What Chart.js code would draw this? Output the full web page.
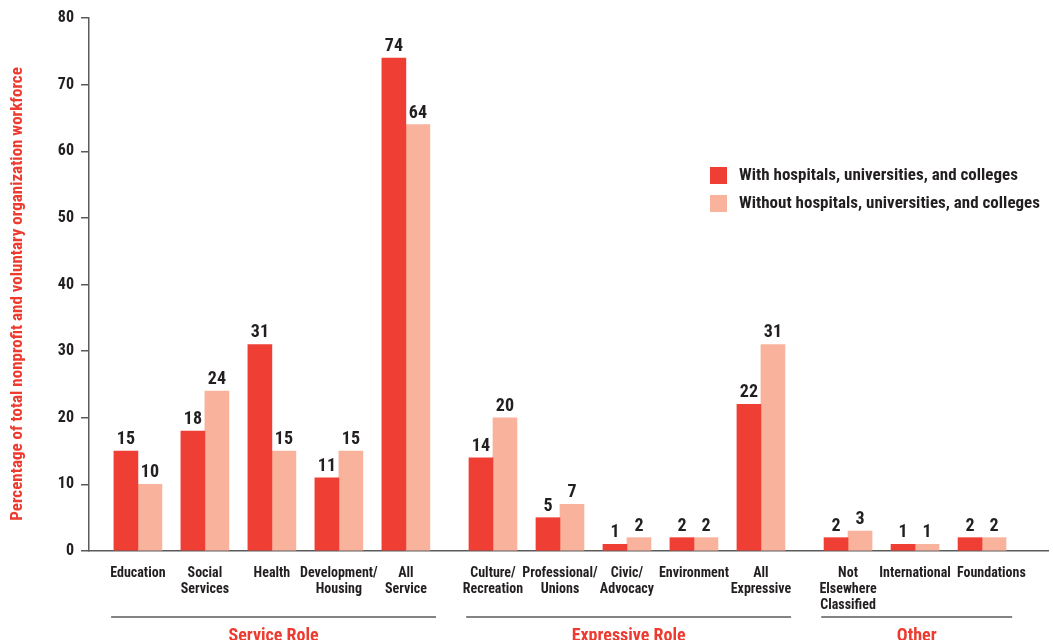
<!DOCTYPE html>
<html>
<head>
<meta charset="utf-8">
<script src="https://cdn.jsdelivr.net/npm/chart.js@4.4.1/dist/chart.umd.min.js"></script>
<style>
  html, body { margin: 0; padding: 0; background: #ffffff; }
  #wrap { position: relative; width: 1053px; height: 640px; }
</style>
</head>
<body>
<div id="wrap"><canvas id="c" width="1053" height="640"></canvas></div>
<script>
// ---- data ----
const categories = [
  ["Education"], ["Social", "Services"], ["Health"], ["Development/", "Housing"], ["All", "Service"],
  ["Culture/", "Recreation"], ["Professional/", "Unions"], ["Civic/", "Advocacy"], ["Environment"], ["All", "Expressive"],
  ["Not", "Elsewhere", "Classified"], ["International"], ["Foundations"]
];
const groupNames = ["Service Role", "Expressive Role", "Other"];
const groupSizes = [5, 5, 3];
const seriesNames = [
  "With hospitals, universities, and colleges",
  "Without hospitals, universities, and colleges"
];
const withHospitals    = [15, 18, 31, 11, 74, 14, 5, 1, 2, 22, 2, 1, 2];
const withoutHospitals = [10, 24, 15, 15, 64, 20, 7, 2, 2, 31, 3, 1, 2];
const yTicks = [0, 10, 20, 30, 40, 50, 60, 70, 80];
const yTitle = "Percentage of total nonprofit and voluntary organization workforce";

// ---- styling ----
const FONT = '"Roboto Condensed", "Open Sans Condensed", "DejaVu Sans Condensed", sans-serif';
const RED = "#ef3e33";
const PINK = "#f9b29b";
const ACCENT = "#ee3b30";
const INK = "#231f20";
const AXIS = "#5a5a5a";
const GROUP_GAP = 0.3;            // extra space between role groups, in category units
const LABEL_NUDGE = { 12: 0.14 }; // keeps the last two long labels from touching

// category slot positions along the x axis (groups separated by a small gap)
const positions = [];
{
  let p = 0;
  groupSizes.forEach(n => {
    for (let i = 0; i < n; i++) { positions.push(p); p += 1; }
    p += GROUP_GAP;
  });
}
// index ranges for each group
const groupRanges = [];
{
  let s = 0;
  groupSizes.forEach(n => { groupRanges.push([s, s + n - 1]); s += n; });
}

const toPoints = arr => arr.map((v, i) => ({ x: positions[i], y: v }));

const decorations = {
  id: "decorations",
  afterDatasetsDraw(chart) {
    const ctx = chart.ctx;
    ctx.save();
    ctx.fillStyle = INK;
    ctx.font = "bold 18px " + FONT;
    ctx.textAlign = "center";
    ctx.textBaseline = "alphabetic";
    chart.data.datasets.forEach((ds, di) => {
      const meta = chart.getDatasetMeta(di);
      meta.data.forEach((el, i) => {
        ctx.fillText(String(ds.data[i].y), el.x, el.y - 7);
      });
    });
    ctx.restore();
  },
  afterDraw(chart) {
    const ctx = chart.ctx;
    const xs = chart.scales.x;
    ctx.save();

    // vertical axis title
    ctx.save();
    ctx.translate(18, 294);
    ctx.rotate(-Math.PI / 2);
    ctx.fillStyle = ACCENT;
    ctx.font = "bold 17px " + FONT;
    ctx.textAlign = "center";
    ctx.textBaseline = "middle";
    ctx.fillText(yTitle, 0, 0);
    ctx.restore();

    // legend
    const colors = [RED, PINK];
    ctx.font = "bold 17px " + FONT;
    ctx.textAlign = "left";
    ctx.textBaseline = "middle";
    seriesNames.forEach((name, i) => {
      const y = 167 + i * 28;
      ctx.fillStyle = colors[i];
      ctx.fillRect(710, y, 17, 17);
      ctx.fillStyle = INK;
      ctx.fillText(name, 739, y + 9);
    });

    // group underlines and names
    groupRanges.forEach(([a, b], g) => {
      const x0 = xs.getPixelForValue(positions[a] - 0.4);
      const x1 = xs.getPixelForValue(positions[b] + 0.45);
      ctx.strokeStyle = AXIS;
      ctx.lineWidth = 1.5;
      ctx.beginPath();
      ctx.moveTo(x0, 617);
      ctx.lineTo(x1, 617);
      ctx.stroke();
      ctx.fillStyle = ACCENT;
      ctx.font = "bold 18px " + FONT;
      ctx.textAlign = "center";
      ctx.textBaseline = "alphabetic";
      ctx.fillText(groupNames[g], (x0 + x1) / 2, 641);
    });
    ctx.restore();
  }
};

new Chart(document.getElementById("c"), {
  type: "bar",
  data: {
    datasets: [
      { label: seriesNames[0], data: toPoints(withHospitals), backgroundColor: RED, barThickness: 24 },
      { label: seriesNames[1], data: toPoints(withoutHospitals), backgroundColor: PINK, barThickness: 24 }
    ]
  },
  options: {
    responsive: false,
    animation: false,
    layout: { padding: { top: 18, right: 5, left: 0, bottom: 0 } },
    plugins: { legend: { display: false }, tooltip: { enabled: false } },
    scales: {
      x: {
        type: "linear",
        offset: false,
        min: -0.73,
        max: 13.585,
        afterBuildTicks: s => {
          s.ticks = positions.map((v, i) => ({ value: v + (LABEL_NUDGE[i] || 0) }));
        },
        afterFit: s => { s.height = 89; },
        grid: { display: true, drawOnChartArea: false, drawTicks: false, offset: false },
        border: { display: true, color: AXIS, width: 1.5 },
        ticks: {
          autoSkip: false,
          maxRotation: 0,
          minRotation: 0,
          padding: 14,
          color: INK,
          font: { family: FONT, size: 14, weight: "bold", lineHeight: 1.17 },
          callback: (v, i) => categories[i]
        }
      },
      y: {
        min: 0,
        max: 80,
        afterBuildTicks: s => { s.ticks = yTicks.map(v => ({ value: v })); },
        afterFit: s => { s.width = 89; },
        grid: { display: true, drawOnChartArea: false, drawTicks: true, tickLength: 8, color: AXIS, lineWidth: 1.5 },
        border: { display: true, color: AXIS, width: 1.5 },
        ticks: {
          padding: 7,
          color: INK,
          font: { family: FONT, size: 16, weight: "bold" }
        }
      }
    }
  },
  plugins: [decorations]
});
</script>
</body>
</html>
